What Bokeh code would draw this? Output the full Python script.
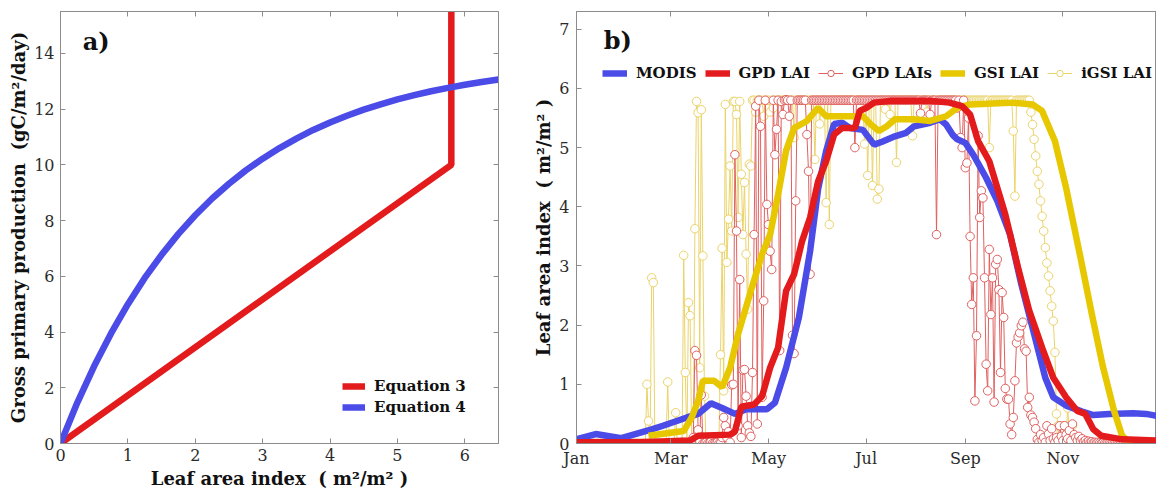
from bokeh.plotting import figure
from bokeh.layouts import row
from bokeh.models import Legend, LegendItem, Label, LinearAxis, FixedTicker
from bokeh.embed import file_html
from bokeh.resources import INLINE

# ---------------- Panel a) data ----------------
lai_eq4 = [0, 0.25, 0.5, 0.75, 1.0, 1.25, 1.5, 1.75, 2.0, 2.25, 2.5, 2.75, 3.0, 3.25,
           3.5, 3.75, 4.0, 4.25, 4.5, 4.75, 5.0, 5.25, 5.5, 5.75, 6.0, 6.25, 6.5]
gpp_eq4 = [0, 1.47, 2.78, 3.95, 5.00, 5.94, 6.77, 7.52, 8.19, 8.79, 9.32, 9.80, 10.22, 10.60,
           10.94, 11.25, 11.52, 11.76, 11.98, 12.17, 12.35, 12.50, 12.64, 12.76, 12.87, 12.97, 13.06]
lai_eq3 = [0, 5.8, 5.8]
gpp_eq3 = [0, 10.0, 16.5]

# ---------------- Panel b) data ----------------
month_days = [0, 59, 120, 181, 243, 304]
month_labels = ["Jan", "Mar", "May", "Jul", "Sep", "Nov"]

modis_day = [0, 12, 28, 47, 54, 69, 76, 84, 91, 99, 106, 119, 124, 131, 139, 146, 151, 156,
             161, 166, 171, 179, 186, 191, 199, 206, 211, 221, 227, 231, 235, 238, 243, 248,
             256, 263, 271, 278, 286, 293, 298, 306, 316, 323, 333, 348, 356, 364]
modis_lai = [0.07, 0.16, 0.09, 0.24, 0.3, 0.44, 0.5, 0.68, 0.6, 0.5, 0.58, 0.58, 0.69, 1.28,
             2.13, 3.25, 4.3, 4.94, 5.4, 5.42, 5.33, 5.3, 5.05, 5.1, 5.19, 5.25, 5.36, 5.42,
             5.48, 5.39, 5.22, 5.14, 5.08, 4.88, 4.49, 4.1, 3.53, 2.69, 1.85, 1.11, 0.78, 0.64,
             0.54, 0.48, 0.5, 0.51, 0.5, 0.46]

gpd_day = [0, 40, 71, 76, 96, 99, 103, 111, 116, 121, 126, 131, 136, 141, 146, 151, 156, 161,
           166, 174, 177, 181, 186, 196, 221, 233, 241, 246, 251, 258, 268, 276, 283, 291,
           298, 306, 313, 318, 323, 328, 341, 364]
gpd_lai = [0.02, 0.02, 0.05, 0.13, 0.15, 0.2, 0.62, 0.66, 0.8, 1.28, 1.62, 2.58, 2.86, 3.42,
           3.82, 4.43, 4.77, 5.22, 5.33, 5.33, 5.62, 5.67, 5.76, 5.79, 5.79, 5.76, 5.7, 5.56,
           5.11, 4.77, 3.87, 2.97, 2.24, 1.62, 1.11, 0.78, 0.55, 0.5, 0.24, 0.13, 0.07, 0.05]

gsi_day = [45, 67, 72, 76, 79, 86, 91, 96, 101, 109, 116, 121, 126, 131, 136, 144, 151, 156,
           164, 179, 184, 189, 194, 199, 211, 221, 231, 238, 246, 271, 285, 291, 299, 306,
           315, 322, 329, 336, 341, 345, 364]
gsi_lai = [0.13, 0.21, 0.44, 0.72, 1.06, 1.06, 0.95, 1.28, 1.85, 2.58, 3.2, 3.53, 4.21, 4.95,
           5.33, 5.45, 5.67, 5.53, 5.53, 5.53, 5.39, 5.28, 5.36, 5.48, 5.48, 5.45, 5.53, 5.67,
           5.73, 5.76, 5.73, 5.62, 5.11, 4.32, 3.14, 2.2, 1.3, 0.55, 0.13, 0.04, 0.03]

gpd_lais = [
    0, 0, 0, 0, 0, 0, 0, 0, 0, 0,
    0, 0, 0, 0, 0, 0, 0, 0, 0, 0,
    0, 0, 0, 0, 0, 0, 0, 0, 0, 0,
    0, 0, 0, 0, 0, 0, 0, 0, 0, 0,
    0, 0, 0, 0, 0, 0, 0, 0, 0, 0,
    0, 0, 0, 0, 0, 0, 0, 0, 0, 0,
    0, 0, 0, 0, 0, 0, 0.02, 0, 0, 0,
    0, 0, 0.05, 0.1, 1.57, 1.49, 0.23, 0.05, 0.82, 0,
    0, 0.02, 0, 0, 0.03, 0, 0, 0, 0.02, 0,
    0, 0.1, 0.44, 0.3, 0.1, 0.2, 0.02, 0.99, 1.0, 4.88,
    3.59, 0.3, 2.77, 0.1, 1.24, 1.25, 0.8, 0.3, 0.18, 0.12,
    1.2, 3.53, 5.7, 0.33, 5.8, 5.36, 0.78, 2.41, 5.8, 4.04,
    3.7, 3.25, 2.94, 5.8, 4.88, 5.31, 5.8, 1.57, 5.78, 5.56,
    5.8, 5.81, 5.8, 5.53, 5.8, 1.83, 1.52, 4.1, 5.8, 5.8,
    5.8, 5.8, 5.8, 5.8, 5.22, 4.6, 2.86, 5.8, 5.8, 5.8,
    5.8, 5.8, 5.8, 5.8, 5.8, 5.8, 5.8, 5.8, 5.8, 5.8,
    5.8, 5.8, 5.8, 5.8, 5.8, 5.8, 5.8, 5.8, 5.8, 5.8,
    5.8, 5.8, 5.8, 5.8, 5.0, 5.8, 5.8, 5.8, 5.8, 5.8,
    5.8, 5.8, 5.8, 5.8, 5.8, 5.8, 5.8, 5.8, 5.8, 5.8,
    5.8, 5.8, 5.8, 5.8, 5.8, 5.8, 5.8, 5.8, 5.8, 5.8,
    5.8, 5.8, 5.8, 5.8, 5.8, 5.8, 5.8, 5.8, 5.8, 5.8,
    5.8, 5.8, 5.8, 5.8, 5.8, 5.58, 5.8, 5.8, 5.8, 5.8,
    5.8, 5.56, 5.8, 5.8, 5.8, 3.53, 5.8, 5.8, 5.8, 5.8,
    5.8, 5.8, 5.8, 5.8, 5.8, 5.8, 5.8, 5.8, 5.67, 5.8,
    5.17, 5.0, 5.8, 4.66, 4.74, 5.5, 3.5, 2.35, 2.8, 0.72,
    1.82, 5.2, 3.82, 4.27, 4.15, 2.8, 1.34, 0.89, 3.28, 2.18,
    2.8, 0.7, 3.03, 3.11, 2.6, 1.2, 2.55, 2.13, 0.93, 0.75,
    0.75, 0.33, 0.15, 0.44, 1.06, 1.7, 1.8, 1.87, 1.99, 2.05,
    1.6, 1.56, 0.61, 0.78, 0.48, 0.44, 0.36, 0.25, 0.07, 0.02,
    0.15, 0.05, 0.1, 0.02, 0.3, 0.16, 0.05, 0.25, 0.08, 0.02,
    0.1, 0.05, 0.3, 0.12, 0.05, 0.3, 0.15, 0.08, 0.22, 0.05,
    0.33, 0.15, 0.1, 0.05, 0.12, 0.05, 0.08, 0.03, 0.05, 0.02,
    0.04, 0.02, 0.03, 0.01, 0.02, 0.01, 0.02, 0.01, 0, 0.01,
    0, 0, 0, 0, 0, 0, 0, 0, 0, 0,
    0, 0, 0, 0, 0, 0, 0, 0, 0, 0,
    0, 0, 0, 0, 0, 0, 0, 0, 0, 0,
    0, 0, 0, 0, 0,
]

igsi_lai = [
    0, 0, 0, 0, 0, 0, 0, 0, 0, 0,
    0, 0, 0, 0, 0, 0, 0, 0, 0, 0,
    0, 0, 0, 0, 0, 0, 0, 0, 0, 0,
    0, 0, 0, 0, 0, 0, 0, 0, 0, 0,
    0, 0, 0, 0, 1.0, 0.38, 0, 2.8, 2.72, 0,
    0, 0, 0, 0, 0, 0, 0, 1.04, 0, 0,
    0, 0, 0.52, 0, 0, 0, 0, 3.18, 1.2, 0,
    2.38, 2.16, 0, 0, 3.63, 5.78, 5.59, 1.28, 5.64, 3.17,
    0.8, 0, 0, 0, 0, 0, 0, 0, 0, 0,
    1.5, 3.3, 0.89, 5.73, 3.06, 3.79, 4.69, 3.59, 5.78, 5.78,
    5.56, 3.82, 5.78, 4.55, 3.53, 4.41, 3.2, 2.27, 4.72, 4.69,
    5.8, 5.8, 5.6, 5.8, 5.8, 5.8, 5.8, 5.53, 5.8, 5.8,
    5.8, 5.6, 5.8, 5.67, 5.8, 5.8, 5.8, 5.8, 5.8, 5.8,
    5.8, 5.8, 5.8, 5.8, 5.8, 5.8, 5.17, 5.8, 5.8, 5.8,
    5.8, 5.8, 5.8, 5.8, 5.8, 5.8, 5.8, 5.8, 5.8, 4.8,
    5.8, 5.8, 5.4, 5.8, 5.8, 5.8, 4.07, 5.8, 3.7, 5.8,
    5.8, 5.8, 5.8, 5.8, 5.8, 5.8, 5.8, 5.8, 5.8, 5.8,
    5.8, 5.8, 5.8, 5.8, 5.8, 5.8, 5.8, 5.8, 5.8, 5.8,
    5.06, 5.8, 4.53, 5.8, 5.8, 4.36, 5.8, 5.8, 4.13, 4.3,
    5.8, 5.8, 5.8, 5.65, 5.8, 5.8, 5.56, 5.8, 5.8, 5.8,
    4.75, 5.8, 5.8, 5.8, 5.8, 5.8, 5.8, 5.8, 5.8, 5.8,
    5.2, 5.8, 5.8, 5.8, 5.8, 5.8, 5.8, 5.8, 5.8, 5.6,
    5.8, 5.8, 5.8, 5.8, 5.8, 5.8, 5.8, 5.8, 5.8, 5.8,
    5.8, 5.8, 5.8, 5.8, 5.8, 5.8, 5.8, 5.8, 5.8, 5.8,
    5.8, 5.8, 5.8, 5.8, 5.8, 5.8, 5.8, 5.8, 5.8, 5.8,
    5.8, 5.8, 5.8, 5.8, 5.8, 5.8, 5.8, 5.8, 5.0, 5.8,
    5.8, 5.8, 5.8, 5.8, 5.8, 5.8, 5.8, 5.8, 5.8, 5.8,
    5.8, 5.8, 5.8, 5.28, 4.18, 5.8, 5.8, 5.8, 5.8, 5.8,
    5.8, 5.8, 5.8, 5.8, 5.6, 5.39, 5.14, 4.86, 4.6, 4.38,
    4.1, 3.84, 3.59, 3.31, 3.05, 2.83, 2.58, 2.32, 2.07, 1.54,
    0.5, 0.3, 0.1, 0.2, 0.3, 0.3, 0.1, 0.6, 0.2, 0.05,
    0.3, 0.1, 0.05, 0.02, 0.1, 0.02, 0, 0, 0, 0,
    0, 0, 0, 0, 0, 0, 0, 0, 0, 0,
    0, 0, 0, 0, 0, 0, 0, 0, 0, 0,
    0, 0, 0, 0, 0, 0, 0, 0, 0, 0,
    0, 0, 0, 0, 0, 0, 0, 0, 0, 0,
    0, 0, 0, 0, 0,
]
days = list(range(len(gpd_lais)))

# ---------------- styling ----------------
SERIF = "DejaVu Serif"
AX = "#8c8c8c"
TXT = "#2b2b2b"
RED = "#e31b1c"
BLUE = "#4b4be8"
YEL = "#e6c700"
RED_THIN = "#e06060"
YEL_THIN = "#ead36a"
NB = "\u00a0"


def style_axis(ax, labels=True):
    ax.axis_line_color = AX
    ax.major_tick_line_color = AX
    ax.major_tick_in = 5
    ax.major_tick_out = 0
    ax.minor_tick_line_color = None
    ax.major_label_text_font = SERIF
    ax.major_label_text_font_size = "16px"
    ax.major_label_text_color = TXT
    ax.axis_label_text_font = SERIF
    ax.axis_label_text_font_style = "bold"
    ax.axis_label_text_font_size = "18px"
    ax.axis_label_text_color = "#111111"
    if not labels:
        ax.major_label_text_color = None
        ax.major_label_text_font_size = "1px"
        ax.major_label_standoff = 0


# ---------------- Panel a ----------------
p1 = figure(width=520, height=494, x_range=(0, 6.5), y_range=(0, 15.5),
            output_backend="svg", toolbar_location=None,
            min_border_left=60, min_border_right=22, min_border_top=11, min_border_bottom=51)
p1.grid.visible = False
p1.outline_line_color = AX
p1.xaxis.ticker = FixedTicker(ticks=[0, 1, 2, 3, 4, 5, 6])
p1.yaxis.ticker = FixedTicker(ticks=[0, 2, 4, 6, 8, 10, 12, 14])
p1.xaxis.axis_label = "Leaf area index" + NB + NB + "(" + NB + "m²/m²" + NB + ")"
p1.yaxis.axis_label = "Gross primary production" + NB + NB + "(gC/m²/day)"
for ax in p1.xaxis + p1.yaxis:
    style_axis(ax)
p1.xaxis.major_label_standoff = 5
p1.xaxis.axis_label_standoff = 4
p1.yaxis.major_label_standoff = 6
p1.yaxis.axis_label_standoff = 2

top1 = LinearAxis(ticker=FixedTicker(ticks=[0, 1, 2, 3, 4, 5, 6]))
style_axis(top1, labels=False)
p1.add_layout(top1, "above")
right1 = LinearAxis(ticker=FixedTicker(ticks=[0, 2, 4, 6, 8, 10, 12, 14]))
style_axis(right1, labels=False)
p1.add_layout(right1, "right")

r3 = p1.line(lai_eq3, gpp_eq3, line_color=RED, line_width=6.5)
r4 = p1.line(lai_eq4, gpp_eq4, line_color=BLUE, line_width=6.5)

leg1 = Legend(items=[LegendItem(label="Equation 3", renderers=[r3]),
                     LegendItem(label="Equation 4", renderers=[r4])],
              location=(282, 27), orientation="vertical",
              glyph_width=23, glyph_height=16, label_height=16, label_standoff=9,
              spacing=3, padding=0, margin=0, border_line_color=None,
              background_fill_alpha=0,
              label_text_font=SERIF, label_text_font_style="bold",
              label_text_font_size="15px", label_text_color="#111111")
p1.add_layout(leg1)
p1.add_layout(Label(x=0.33, y=13.9, text="a)", text_font=SERIF, text_font_style="bold",
                    text_font_size="24px", text_color="#111111"))

# ---------------- Panel b ----------------
p2 = figure(width=636, height=494, x_range=(0, 362.5), y_range=(0, 7.3),
            output_backend="svg", toolbar_location=None,
            min_border_left=56, min_border_right=0, min_border_top=11, min_border_bottom=51)
p2.grid.visible = False
p2.outline_line_color = AX
p2.xaxis.ticker = FixedTicker(ticks=month_days)
p2.xaxis.major_label_overrides = {d: m for d, m in zip(month_days, month_labels)}
p2.yaxis.ticker = FixedTicker(ticks=[0, 1, 2, 3, 4, 5, 6, 7])
p2.yaxis.axis_label = "Leaf area index" + NB + NB + "(" + NB + "m²/m²" + NB + ")"
for ax in p2.xaxis + p2.yaxis:
    style_axis(ax)
p2.xaxis.major_label_standoff = 5
p2.yaxis.major_label_standoff = 7
p2.yaxis.axis_label_standoff = 2

top2 = LinearAxis(ticker=FixedTicker(ticks=month_days))
style_axis(top2, labels=False)
p2.add_layout(top2, "above")

# thin daily series with circles
ri_l = p2.line(days, igsi_lai, line_color=YEL_THIN, line_width=1)
ri_s = p2.scatter(days, igsi_lai, marker="circle", size=8.5, line_color=YEL_THIN,
                  fill_color="white", line_width=1)
rg_l = p2.line(days, gpd_lais, line_color=RED_THIN, line_width=1)
rg_s = p2.scatter(days, gpd_lais, marker="circle", size=8.5, line_color=RED_THIN,
                  fill_color="white", line_width=1)
# thick lines
rm = p2.line(modis_day, modis_lai, line_color=BLUE, line_width=6.5)
rgs = p2.line(gsi_day, gsi_lai, line_color=YEL, line_width=6.5)
rgp = p2.line(gpd_day, gpd_lai, line_color=RED, line_width=6.5)

leg2 = Legend(items=[LegendItem(label="MODIS", renderers=[rm]),
                     LegendItem(label="GPD LAI", renderers=[rgp]),
                     LegendItem(label="GPD LAIs", renderers=[rg_l, rg_s]),
                     LegendItem(label="GSI LAI", renderers=[rgs]),
                     LegendItem(label="iGSI LAI", renderers=[ri_l, ri_s])],
              location=(26, 361), orientation="horizontal",
              glyph_width=25, glyph_height=16, label_height=16, label_standoff=9,
              spacing=8, padding=0, margin=0, border_line_color=None,
              background_fill_alpha=0,
              label_text_font=SERIF, label_text_font_style="bold",
              label_text_font_size="15px", label_text_color="#111111")
p2.add_layout(leg2)
p2.add_layout(Label(x=17, y=6.57, text="b)", text_font=SERIF, text_font_style="bold",
                    text_font_size="24px", text_color="#111111"))

layout = row(p1, p2)
open("out.html", "w").write(file_html(layout, INLINE))
